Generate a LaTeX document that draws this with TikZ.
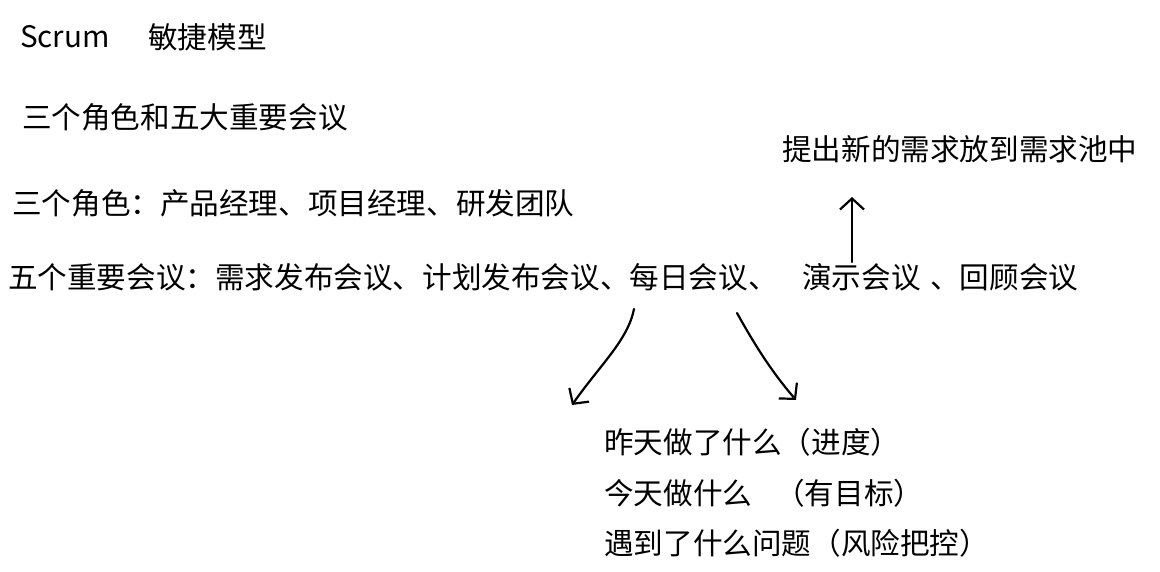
\documentclass[tikz,border=0pt]{standalone}
\usepackage{fontspec}
\setmainfont{Noto Sans CJK SC}
\usetikzlibrary{arrows.meta}
\begin{document}
\begin{tikzpicture}[x=1pt,y=-1pt,
  txt/.style={anchor=west,inner sep=0pt,font=\fontsize{29.6}{33}\selectfont},
  hand/.style={line width=2.2pt,line cap=round,-{Straight Barb[length=11pt,width=24pt,line width=2.2pt]}}]
\useasboundingbox[fill=white] (0,0) rectangle (1160,572);
\node[txt] (t1) at (20,37) {Scrum};
\node[txt] (t1b) at (148,37) {敏捷模型};
\node[txt] (t2) at (22,117) {三个角色和五大重要会议};
\node[txt] (t3) at (782,149) {提出新的需求放到需求池中};
\node[txt] (t4) at (12,203) {三个角色：产品经理、项目经理、研发团队};
\node[txt] (t5) at (8,277) {五个重要会议：需求发布会议、计划发布会议、每日会议、};
\node[txt] (t5b) at (802,277) {演示会议};
\node[txt] (t5c) at (930,277) {、回顾会议};
\node[txt] (d1) at (604,442) {昨天做了什么（进度）};
\node[txt] (d2) at (604,493) {今天做什么};
\node[txt] (d2b) at (775,493) {（有目标）};
\node[txt] (d3) at (604,543) {遇到了什么问题（风险把控）};
\coordinate (u0) at (852,262); \coordinate (u1) at (852,197);
\coordinate (l0) at (634,309); \coordinate (l1) at (572,405);
\coordinate (r0) at (737,313); \coordinate (r1) at (796,400);
\draw[hand] (u0) -- (u1);
\draw[hand] (l0) .. controls (628,340) and (600,365) .. (l1);
\draw[hand] (r0) .. controls (752,340) and (770,370) .. (r1);
\end{tikzpicture}
\end{document}
